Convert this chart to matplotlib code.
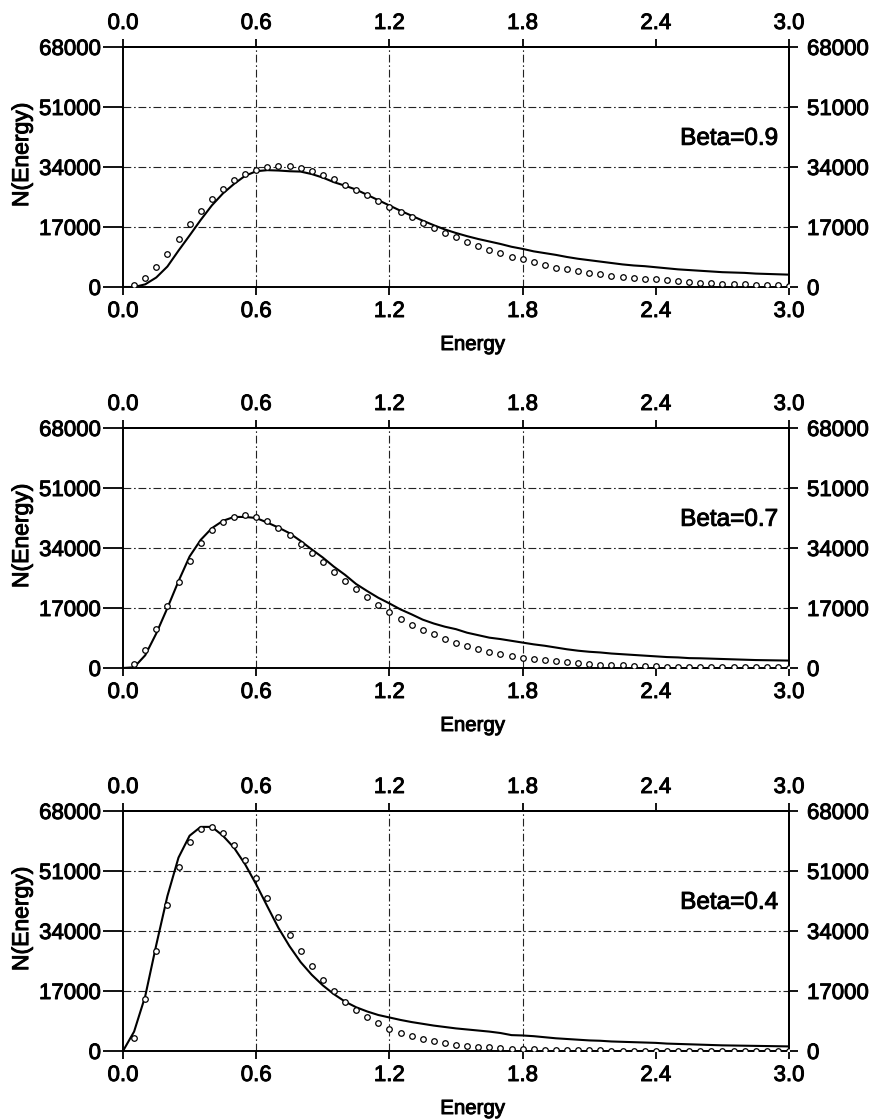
import numpy as np
import matplotlib
matplotlib.use("Agg")
import matplotlib.pyplot as plt
import matplotlib.patheffects as pe
from matplotlib.text import Text
from matplotlib.ticker import FormatStrFormatter

plt.rcParams['font.family'] = ['Liberation Sans', 'DejaVu Sans']

# energy grid of the sampled points (0.05 .. 3.00), curves also start at 0
energy = np.arange(1, 61) * 0.05
energy_curve = np.arange(0, 61) * 0.05

x_ticks = [0.0, 0.6, 1.2, 1.8, 2.4, 3.0]
y_ticks = [0, 17000, 34000, 51000, 68000]
x_grid = [0.6, 1.2, 1.8]
y_grid = [17000, 34000, 51000]

beta_labels = ["Beta=0.9", "Beta=0.7", "Beta=0.4"]

# theory (open circles)
theory_09 = [700, 2600, 5600, 9400, 13500, 17800, 21500, 25000, 27900, 30300,
             32100, 33200, 34100, 34300, 34200, 33600, 32800, 31700, 30500, 29000,
             27600, 26100, 24400, 22800, 21200, 19700, 18000, 16600, 15400, 14200,
             12800, 11700, 10500, 9500, 8600, 7900, 7100, 6200, 5500, 5000,
             4500, 4100, 3600, 3200, 2900, 2500, 2400, 2200, 2000, 1700,
             1500, 1200, 1000, 950, 850, 750, 650, 570, 500, 400]
theory_07 = [1100, 5200, 11000, 17700, 24300, 30300, 35300, 39000, 41500, 42900,
             43300, 42700, 41600, 39700, 37600, 35200, 32600, 30000, 27300, 24700,
             22400, 20000, 17800, 15800, 13900, 12300, 10700, 9500, 8200, 7200,
             6300, 5400, 4600, 4100, 3500, 2900, 2500, 2200, 2000, 1800,
             1500, 1150, 950, 850, 760, 660, 570, 470, 420, 380,
             340, 300, 270, 240, 220, 200, 180, 160, 150, 140]
theory_04 = [3800, 14600, 28300, 41500, 52000, 59200, 62900, 63600, 61900, 58500,
             54000, 48900, 43400, 38100, 33000, 28300, 24000, 20200, 16900, 13900,
             11600, 9600, 7800, 6300, 5100, 4200, 3300, 2700, 2200, 1800,
             1500, 1200, 1000, 820, 680, 560, 460, 380, 320, 260,
             220, 180, 150, 130, 110, 90, 80, 70, 60, 50,
             45, 40, 36, 32, 28, 25, 22, 20, 18, 16]

# simulation (solid line)
sim_09 = [0, 0, 750, 2700, 5800, 10300, 14600, 19000, 23100, 26500, 29200,
          31500, 32800, 33100, 33000, 32800, 32700, 32000, 31000, 29700, 28700,
          27600, 26100, 24600, 23100, 21600, 20200, 18800, 17500, 16300, 15300,
          14400, 13600, 12900, 12200, 11400, 10800, 10100, 9600, 9100, 8500,
          8000, 7600, 7200, 6800, 6400, 6100, 5900, 5600, 5300, 5000,
          4800, 4600, 4400, 4200, 4100, 4000, 3800, 3700, 3600, 3500]
sim_07 = [0, 200, 3600, 9800, 17000, 24600, 31600, 36300, 39600, 41700, 42800,
          42800, 42500, 41200, 39800, 38200, 36000, 33600, 31300, 28700, 26400,
          23800, 21800, 19900, 18300, 16600, 15200, 13700, 12600, 11700, 11000,
          10000, 9300, 8600, 8200, 7700, 7200, 6700, 6300, 5800, 5300,
          4900, 4600, 4400, 4100, 3900, 3700, 3500, 3300, 3100, 3000,
          2800, 2750, 2650, 2550, 2450, 2350, 2250, 2200, 2150, 2100]
sim_04 = [0, 5500, 15500, 30100, 43900, 54800, 61000, 63500, 63500, 61000, 57600,
          52900, 47200, 41000, 34900, 29700, 25200, 21600, 18600, 16100, 14000,
          12400, 11200, 10200, 9500, 8800, 8200, 7700, 7200, 6800, 6400,
          6100, 5800, 5500, 5100, 4500, 4400, 4200, 3900, 3600, 3400,
          3200, 3000, 2900, 2700, 2600, 2500, 2400, 2300, 2100, 2000,
          1900, 1800, 1700, 1600, 1550, 1500, 1450, 1400, 1350, 1300]

TICK_FS = 16
PX = 72 / 100  # points per pixel at dpi 100


def draw_panel(ax, theory, sim, label):
    ax.set_xlim(0, 3.0)
    ax.set_ylim(0, 68000)

    gl = dict(color='#222222', lw=0.8, ls=(0, (7, 2.5, 1.5, 2.5)), zorder=1)
    for xv in x_grid:
        ax.axvline(xv, **gl)
    for yv in y_grid:
        ax.axhline(yv, **gl)

    ax.plot(energy_curve, sim, color='black', lw=1.5, zorder=3)
    ax.plot(energy, theory, ls='none', marker='o', ms=4, mfc='white',
            mec='black', mew=0.9, zorder=4)

    ax.text(2.95, 42000, label, ha='right', va='center', fontsize=17.5)

    for sp in ax.spines.values():
        sp.set_linewidth(1.4)

    ax.set_xticks(x_ticks)
    ax.xaxis.set_major_formatter(FormatStrFormatter('%.1f'))
    ax.set_yticks(y_ticks)
    ax.tick_params(axis='x', direction='out', length=8 * PX, width=1.3,
                   pad=6 * PX, labelsize=TICK_FS)
    ax.tick_params(axis='y', direction='out', length=20 * PX, width=1.3,
                   pad=2 * PX, labelsize=TICK_FS)

    top = ax.secondary_xaxis('top')
    top.set_xticks(x_ticks)
    top.xaxis.set_major_formatter(FormatStrFormatter('%.1f'))
    top.tick_params(direction='out', length=8 * PX, width=1.3, pad=5 * PX,
                    labelsize=TICK_FS)
    top.spines['top'].set_linewidth(1.4)

    right = ax.secondary_yaxis('right')
    right.set_yticks(y_ticks)
    right.tick_params(direction='out', length=9 * PX, width=1.3, pad=9 * PX,
                      labelsize=TICK_FS)
    right.spines['right'].set_linewidth(1.4)

    ax.set_xlabel('Energy', fontsize=14.7)
    ax.xaxis.set_label_coords(0.525, -0.2)
    ax.set_ylabel('N(Energy)', fontsize=16.5)
    ax.yaxis.set_label_coords(-0.135, 0.55)


fig = plt.figure(figsize=(8.75, 11.19), dpi=100)
fig.patch.set_facecolor('white')

left = 123 / 875
width = 666 / 875
bottoms = [832 / 1119, 451 / 1119, 68 / 1119]
height = 240 / 1119

panels = [(theory_09, sim_09), (theory_07, sim_07), (theory_04, sim_04)]
for b, (theory, sim), label in zip(bottoms, panels, beta_labels):
    ax = fig.add_axes([left, b, width, height])
    draw_panel(ax, theory, sim, label)

# slightly heavier lettering, like the printed figure
for t in fig.findobj(Text):
    t.set_path_effects([pe.withStroke(linewidth=0.7, foreground='black')])

fig.savefig('out.png', dpi=100, facecolor='white')
